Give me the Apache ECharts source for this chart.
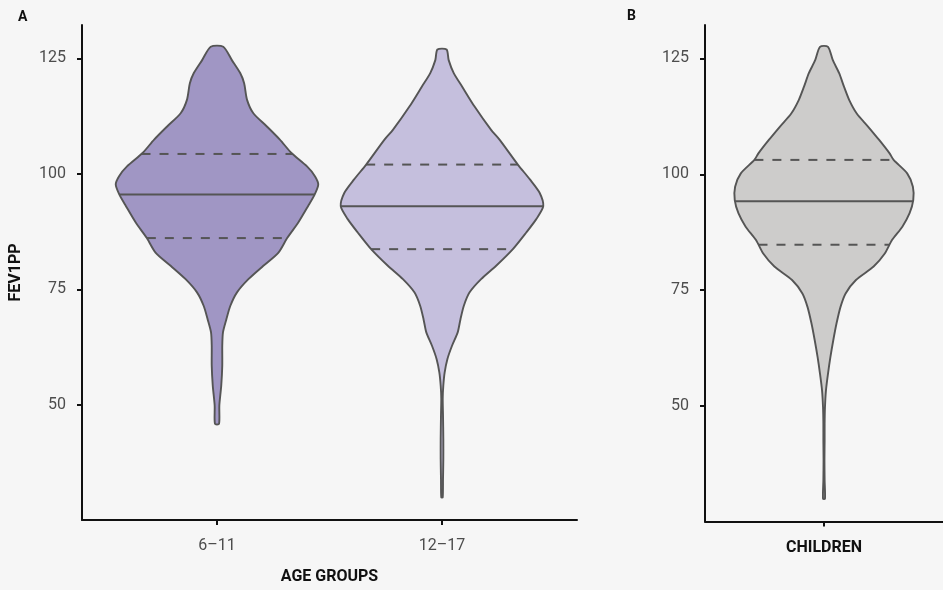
<!DOCTYPE html>
<html>
<head>
<meta charset="utf-8">
<script src="https://cdn.jsdelivr.net/npm/echarts@6/dist/echarts.min.js"></script>
<style>
  html, body { margin: 0; padding: 0; background: #f6f6f6; }
  #chart { width: 943px; height: 590px; }
</style>
</head>
<body>
<div id="chart"></div>
<script>
// Panel A: FEV1 % predicted by age group; panel B: all children
const ageGroups = ['6–11', '12–17'];
const childrenLabel = ['CHILDREN'];
const yTicks = [50, 75, 100, 125];

// Kernel density profiles (peak = 1), sampled at FEV1PP levels from top to bottom
const levels611 = [127.5, 124.6, 121.8, 119.6, 116.0, 113.1, 110.3, 107.4, 104.5, 101.6, 99.5, 97.7, 95.5, 93.0,
  89.4, 86.1, 82.9, 80.1, 77.2, 74.3, 71.4, 68.5, 65.7, 62.8, 58.5, 54.2, 49.85, 45.9];
const density611 = [0.062, 0.147, 0.229, 0.268, 0.297, 0.359, 0.490, 0.621, 0.735, 0.889, 0.967, 1.0, 0.964, 0.899,
  0.801, 0.693, 0.605, 0.458, 0.310, 0.196, 0.131, 0.092, 0.059, 0.052, 0.052, 0.042, 0.023, 0.020];
const quartiles611 = [86.1, 95.5, 104.3];

const levels1217 = [126.9, 124.6, 121.8, 118.9, 114.6, 109.5, 107.4, 102.0, 98.8, 95.9, 93.0, 90.2, 87.3, 83.7,
  80.1, 77.2, 74.3, 71.4, 68.5, 65.7, 62.8, 59.9, 57.0, 54.2, 51.3, 47.7, 42.7, 38.3, 34.0, 30.0];
const density1217 = [0.045, 0.066, 0.116, 0.198, 0.320, 0.485, 0.568, 0.749, 0.868, 0.964, 1.0, 0.931, 0.832, 0.700,
  0.535, 0.386, 0.271, 0.215, 0.182, 0.155, 0.099, 0.053, 0.026, 0.013, 0.007, 0.010, 0.013, 0.013, 0.010, 0.007];
const quartiles1217 = [83.7, 93.0, 102.0];

const levelsChildren = [127.5, 124.6, 121.8, 118.9, 116.0, 113.1, 110.3, 107.4, 104.5, 103.1, 100.2, 97.3, 94.4,
  91.6, 88.7, 85.8, 82.9, 80.1, 77.2, 74.3, 71.4, 67.8, 64.2, 60.6, 57.0, 53.4, 49.8, 46.2, 42.6, 38.3, 34.0, 30.0];
const densityChildren = [0.045, 0.099, 0.170, 0.224, 0.283, 0.367, 0.493, 0.618, 0.735, 0.780, 0.932, 0.996, 1.0,
  0.959, 0.878, 0.762, 0.681, 0.556, 0.358, 0.242, 0.185, 0.140, 0.104, 0.072, 0.045, 0.022, 0.011, 0.007, 0.007,
  0.005, 0.007, 0.011];
const quartilesChildren = [84.8, 94.2, 103.1];

const HALF_WIDTH = 0.45;          // half of the violin width, in category units
const OUTLINE = '#555555';
const FONT = 'Roboto, "Liberation Sans", sans-serif';

function widthAt(levels, density, v) {
  for (let i = 0; i < levels.length - 1; i++) {
    const a = levels[i], b = levels[i + 1];
    if (v <= a && v >= b) {
      const t = (a - v) / (a - b);
      return density[i] + t * (density[i + 1] - density[i]);
    }
  }
  return 0;
}

function violin(levels, density, quartiles, fill) {
  return function (params, api) {
    const cx = api.value(0);
    const rightSide = levels.map((v, i) => api.coord([cx + density[i] * HALF_WIDTH, v]));
    const leftSide = levels.map((v, i) => api.coord([cx - density[i] * HALF_WIDTH, v])).reverse();
    const children = [{
      type: 'polygon',
      shape: { points: rightSide.concat(leftSide), smooth: 0.25 },
      style: { fill: fill, stroke: OUTLINE, lineWidth: 1.9, lineJoin: 'round' }
    }];
    quartiles.forEach((q, k) => {
      const w = widthAt(levels, density, q) * HALF_WIDTH;
      const p0 = api.coord([cx - w, q]);
      const p1 = api.coord([cx + w, q]);
      children.push({
        type: 'line',
        shape: { x1: p0[0], y1: p0[1], x2: p1[0], y2: p1[1] },
        style: { stroke: OUTLINE, lineWidth: 2, lineDash: k === 1 ? null : [9, 9] }
      });
    });
    return { type: 'group', children: children };
  };
}

const axisStroke = { color: '#111', width: 2 };

const yAxisBase = {
  type: 'value',
  min: 25.1,
  max: 132.2,
  splitLine: { show: false },
  axisLine: { show: true, lineStyle: axisStroke },
  axisTick: { show: true, customValues: yTicks, length: 5, lineStyle: axisStroke },
  axisLabel: { customValues: yTicks, color: '#4d4d4d', fontSize: 16, fontFamily: FONT, margin: 16 }
};

const chart = echarts.init(document.getElementById('chart'), null, { renderer: 'canvas' });
chart.setOption({
  animation: false,
  backgroundColor: '#f6f6f6',
  title: [
    { text: 'A', left: 13, top: 5, textStyle: { fontSize: 14, fontWeight: 'bold', color: '#111', fontFamily: FONT } },
    { text: 'B', left: 622, top: 4, textStyle: { fontSize: 14, fontWeight: 'bold', color: '#111', fontFamily: FONT } }
  ],
  grid: [
    { left: 82, top: 25, width: 495, height: 496.5 },
    { left: 705, top: 25, width: 248, height: 496.5 }
  ],
  xAxis: [
    {
      gridIndex: 0, type: 'value', min: 0.4, max: 2.6,
      splitLine: { show: false },
      axisLine: { lineStyle: axisStroke },
      axisTick: { show: true, customValues: [1, 2], length: 5, lineStyle: axisStroke },
      axisLabel: {
        customValues: [1, 2], color: '#4d4d4d', fontSize: 16, fontFamily: FONT, margin: 18,
        formatter: v => ageGroups[Math.round(v) - 1]
      },
      name: 'AGE GROUPS', nameLocation: 'middle', nameGap: 49,
      nameTextStyle: { fontSize: 16, fontWeight: 'bold', color: '#111', fontFamily: FONT }
    },
    {
      gridIndex: 1, type: 'value', min: 0.4, max: 1.6,
      splitLine: { show: false },
      axisLine: { lineStyle: axisStroke },
      axisTick: { show: true, customValues: [1], length: 5, lineStyle: axisStroke },
      axisLabel: {
        customValues: [1], color: '#111', fontSize: 16, fontWeight: 'bold', fontFamily: FONT, margin: 18,
        formatter: () => childrenLabel[0]
      }
    }
  ],
  yAxis: [
    Object.assign({}, yAxisBase, {
      gridIndex: 0,
      name: 'FEV1PP', nameLocation: 'middle', nameGap: 58, nameRotate: 90,
      nameTextStyle: { fontSize: 16, fontWeight: 'bold', color: '#111', fontFamily: FONT }
    }),
    Object.assign({}, yAxisBase, { gridIndex: 1 })
  ],
  series: [
    {
      type: 'custom', xAxisIndex: 0, yAxisIndex: 0, silent: true,
      encode: { x: 0, y: 1 }, data: [[1, 95]],
      renderItem: violin(levels611, density611, quartiles611, '#a096c4')
    },
    {
      type: 'custom', xAxisIndex: 0, yAxisIndex: 0, silent: true,
      encode: { x: 0, y: 1 }, data: [[2, 93]],
      renderItem: violin(levels1217, density1217, quartiles1217, '#c5bfdd')
    },
    {
      type: 'custom', xAxisIndex: 1, yAxisIndex: 1, silent: true,
      encode: { x: 0, y: 1 }, data: [[1, 94]],
      renderItem: violin(levelsChildren, densityChildren, quartilesChildren, '#cdcccb')
    }
  ]
});
</script>
</body>
</html>
